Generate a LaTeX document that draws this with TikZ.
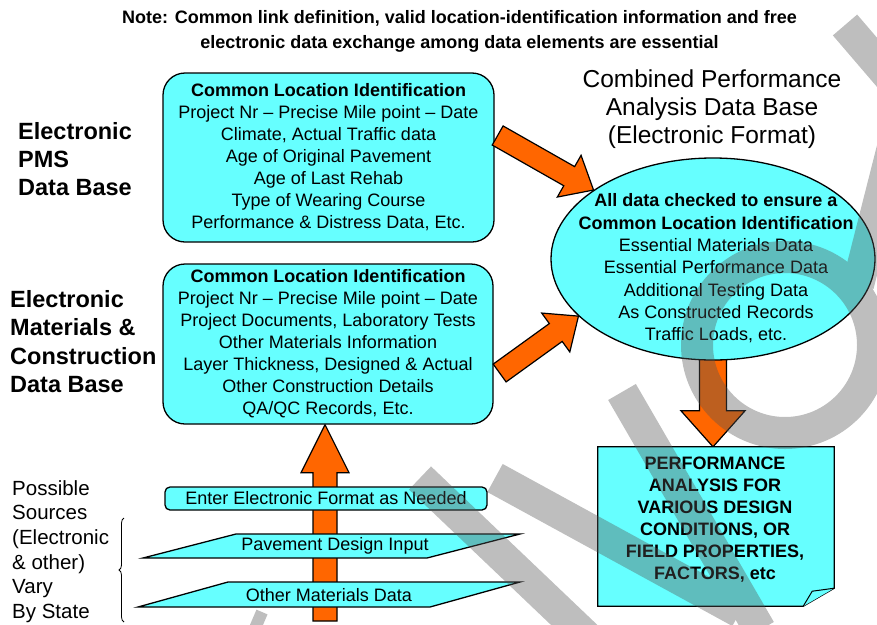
\documentclass[tikz,border=0pt]{standalone}
\usepackage{fontspec}
\setmainfont{Liberation Sans}
\usetikzlibrary{shapes.geometric,calc,backgrounds,decorations.pathreplacing}

\definecolor{boxcyan}{RGB}{102,255,255}
\definecolor{floworange}{RGB}{255,102,0}
\definecolor{markgrey}{RGB}{84,84,84}

\tikzset{
  cyanbox/.style={draw=black, line width=1.3pt, fill=boxcyan, align=center, inner sep=0pt,
    font=\fontsize{18}{22}\selectfont},
  fatarrow/.style={draw=black, line width=1.2pt, fill=floworange, line join=miter},
  sidelabel/.style={anchor=west, align=left, inner sep=0pt, font=\bfseries\fontsize{23.5}{28.3}\selectfont},
  watermark/.style={draw=markgrey, line width=32pt}
}

% block arrow: tail, tip, half shaft, half head, head length
\newcommand{\blockarrow}[5]{%
  \coordinate (ba) at ($(#2)!#5!(#1)$);
  \draw[fatarrow] ($(#1)!#3!90:(#2)$) -- ($(ba)!#3!90:(#2)$) -- ($(ba)!#4!90:(#2)$) -- (#2)
    -- ($(ba)!#4!-90:(#2)$) -- ($(ba)!#3!-90:(#2)$) -- ($(#1)!#3!-90:(#2)$) -- cycle;}

\begin{document}
\begin{tikzpicture}[x=1pt,y=-1pt]
\useasboundingbox (0,0) rectangle (877,624);

\node[align=center, inner sep=0pt, font=\bfseries\fontsize{18}{25}\selectfont] (note) at (459.5,31.5)
  {Note: Common link definition, valid location-identification information and free\\
   electronic data exchange among data elements are essential};

\node[sidelabel] (pmslbl) at (18,159) {Electronic\\PMS\\Data Base};
\node[sidelabel] (matlbl) at (10,341.5) {Electronic\\Materials \&\\Construction\\Data Base};
\node[sidelabel, font=\fontsize{20.5}{24.6}\selectfont] (srclbl) at (12,551.5)
  {Possible\\Sources\\(Electronic\\\& other)\\Vary\\By State};
\node[align=center, inner sep=0pt, font=\fontsize{24.5}{28}\selectfont] (title) at (712,109)
  {Combined Performance\\Analysis Data Base\\(Electronic Format)};

% the two source data bases
\node[cyanbox, rounded corners=22pt, minimum width=331pt, minimum height=169pt] (pms) at (328.5,157.5)
  {\textbf{Common Location Identification}\\Project Nr -- Precise Mile point -- Date\\
   Climate, Actual Traffic data\\Age of Original Pavement\\Age of Last Rehab\\
   Type of Wearing Course\\Performance \& Distress Data, Etc.};
\node[cyanbox, rounded corners=22pt, minimum width=330pt, minimum height=160pt] (mat) at (328,344)
  {\textbf{Common Location Identification}\\Project Nr -- Precise Mile point -- Date\\
   Project Documents, Laboratory Tests\\Other Materials Information\\
   Layer Thickness, Designed \& Actual\\Other Construction Details\\QA/QC Records, Etc.};

% combined data base
\node[cyanbox, ellipse, minimum width=324pt, minimum height=202pt] (store) at (713,259) {};
\node[align=center, inner sep=0pt, font=\fontsize{18}{22.3}\selectfont] (storetxt) at (716,268.5)
  {\textbf{All data checked to ensure a}\\\textbf{Common Location Identification}\\
   Essential Materials Data\\Essential Performance Data\\Additional Testing Data\\
   As Constructed Records\\Traffic Loads, etc.};

% report sheet with folded corner
\node[minimum width=236pt, minimum height=159pt] (report) at (716,526.5) {};
\draw[cyanbox] (report.north west) -- (report.north east) -- ($(report.south east)+(0,-18)$)
  -- ($(report.south east)+(-31,0)$) -- (report.south west) -- cycle;
\draw[cyanbox, line width=1pt] ($(report.south east)+(-31,0)$) -- ($(report.south east)+(-22,-15)$)
  -- ($(report.south east)+(0,-18)$);
\node[align=center, inner sep=0pt, font=\bfseries\fontsize{18}{22}\selectfont] (reporttxt) at (715,519.5)
  {PERFORMANCE\\ANALYSIS FOR\\VARIOUS DESIGN\\CONDITIONS, OR\\FIELD PROPERTIES,\\FACTORS, etc};

% input sources
\node[cyanbox, rounded corners=5pt, minimum width=322pt, minimum height=23pt] (enter) at (326,498.5)
  {Enter Electronic Format as Needed};
\draw[cyanbox] (143,558) -- (236,534) -- (520,534) -- (427,558) -- cycle;
\node[inner sep=0pt, font=\fontsize{18}{22}\selectfont] (design) at (335,546) {Pavement Design Input};
\draw[cyanbox] (138,607) -- (228,582) -- (520,582) -- (430,607) -- cycle;
\node[inner sep=0pt, font=\fontsize{18}{22}\selectfont] (othermat) at (329,595) {Other Materials Data};

% brace
\coordinate (bracelo) at (124,622);
\coordinate (bracehi) at (124,518);
\draw[line width=.8pt, decorate, decoration={brace, amplitude=5pt}] (bracelo) -- (bracehi);

% orange arrows
\coordinate (pmsout) at ($(pms.east)+(3,-22)$);
\coordinate (matout) at ($(mat.east)+(6,29)$);
\blockarrow{pmsout}{store.150}{11pt}{24pt}{28pt}
\blockarrow{matout}{store.203}{11pt}{24pt}{28pt}
\begin{pgfonlayer}{background}
  \coordinate (feed) at (325,621);
  \coordinate (feedtop) at (feed |- mat.south);
  \blockarrow{feed}{feedtop}{12pt}{24pt}{48pt}
  \coordinate (storeout) at ($(store.south)+(0,-12)$);
  \coordinate (reportin) at (store.south |- report.north);
  \blockarrow{storeout}{reportin}{13.5pt}{32pt}{36pt}
\end{pgfonlayer}

% watermark
\begin{scope}[transparency group, opacity=.38]
  \clip (0,0) rectangle (877,624);
  \draw[watermark] (845,25) -- (905,95);
  \draw[watermark] (905,100) -- (858,285);
  \draw[watermark] (785,345) circle[radius=88];
  \draw[watermark] (622,392) -- (760,630);
  \draw[watermark] (495,478) -- (740,612);
  \draw[watermark] (420,478) -- (590,640);
  \draw[watermark, line width=12pt] (262,612) -- (250,640);
\end{scope}
\end{tikzpicture}
\end{document}
